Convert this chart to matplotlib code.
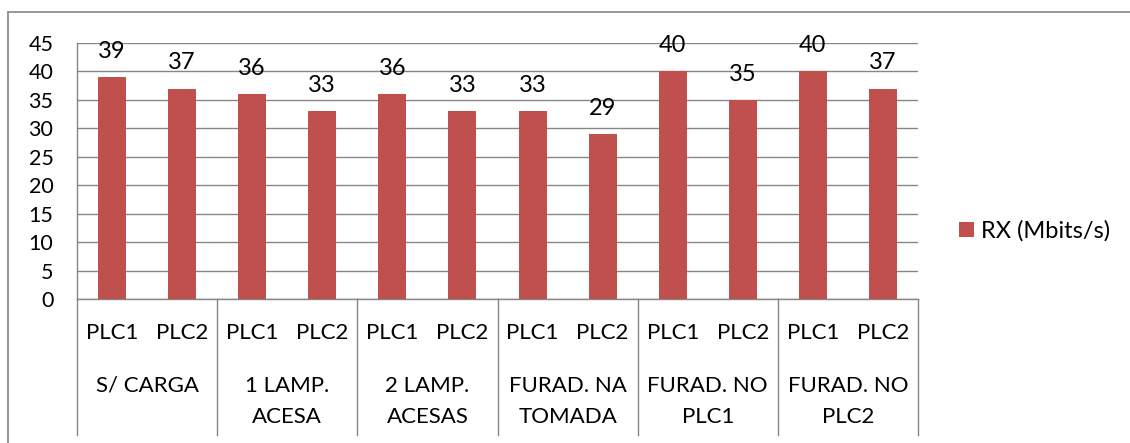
import matplotlib
matplotlib.use("Agg")
import matplotlib.pyplot as plt
from matplotlib.lines import Line2D
from matplotlib.patches import Patch
from matplotlib.transforms import blended_transform_factory

plt.rcParams['font.family'] = ['Lato', 'DejaVu Sans']

# Data
groups = ["S/ CARGA", "1 LAMP.\nACESA", "2 LAMP.\nACESAS", "FURAD. NA\nTOMADA",
          "FURAD. NO\nPLC1", "FURAD. NO\nPLC2"]
devices = ["PLC1", "PLC2"]
rx_values = [39, 37, 36, 33, 36, 33, 33, 29, 40, 35, 40, 37]
series_name = "RX (Mbits/s)"
y_ticks = [0, 5, 10, 15, 20, 25, 30, 35, 40, 45]

bar_color = "#C0504D"
grid_color = "#868686"

fig = plt.figure(figsize=(11.30, 4.43), dpi=100)
W, H = 1130, 443
ax = fig.add_axes([77 / W, 1 - 299 / H, (918 - 77) / W, (299 - 43) / H])

x = list(range(len(rx_values)))
bars = ax.bar(x, rx_values, width=0.4, color=bar_color, zorder=3)
ax.bar_label(bars, labels=[str(v) for v in rx_values], padding=11,
             fontsize=17, color="#000000")

ax.set_xlim(-0.5, len(rx_values) - 0.5)
ax.set_ylim(0, 45)
ax.set_yticks(y_ticks)
ax.tick_params(axis='y', length=0, pad=17, labelsize=15.5)
ax.set_xticks([])
ax.yaxis.grid(True, color=grid_color, linewidth=1.0, zorder=0)

for side in ("top", "right"):
    ax.spines[side].set_visible(False)
for side in ("left", "bottom"):
    ax.spines[side].set_color(grid_color)
    ax.spines[side].set_linewidth(1.0)

# Two-level category axis
trans = blended_transform_factory(ax.transData, ax.transAxes)
axes_h = 299 - 43
drop = 136 / axes_h
for k in range(len(groups) + 1):
    xd = k * 2 - 0.5
    ax.add_line(Line2D([xd, xd], [0, -drop], transform=trans, color=grid_color,
                       linewidth=1.0, clip_on=False))

for i in x:
    ax.annotate(devices[i % 2], xy=(i, 0), xycoords=('data', 'axes fraction'),
                xytext=(0, -34), textcoords='offset pixels',
                ha='center', va='center', fontsize=16, annotation_clip=False)

for g, name in enumerate(groups):
    for j, line in enumerate(name.split("\n")):
        ax.annotate(line, xy=(2 * g + 0.5, 0), xycoords=('data', 'axes fraction'),
                    xytext=(0, -87 - 31 * j), textcoords='offset pixels',
                    ha='center', va='center', fontsize=16, annotation_clip=False)

# Legend
fig.legend(handles=[Patch(facecolor=bar_color, edgecolor='none', label=series_name)],
           loc='center left', bbox_to_anchor=(959 / W, 1 - 231 / H), frameon=False,
           fontsize=17, handlelength=0.65, handleheight=0.65, handletextpad=0.3,
           borderpad=0, borderaxespad=0)

# Chart frame
fig.add_artist(Line2D([8 / W, 1.0], [1 - 12 / H, 1 - 12 / H], transform=fig.transFigure,
                      color=grid_color, linewidth=1.2))
fig.add_artist(Line2D([8 / W, 8 / W], [1 - 12 / H, 0.0], transform=fig.transFigure,
                      color=grid_color, linewidth=1.2))

fig.savefig("out.png", dpi=100)
